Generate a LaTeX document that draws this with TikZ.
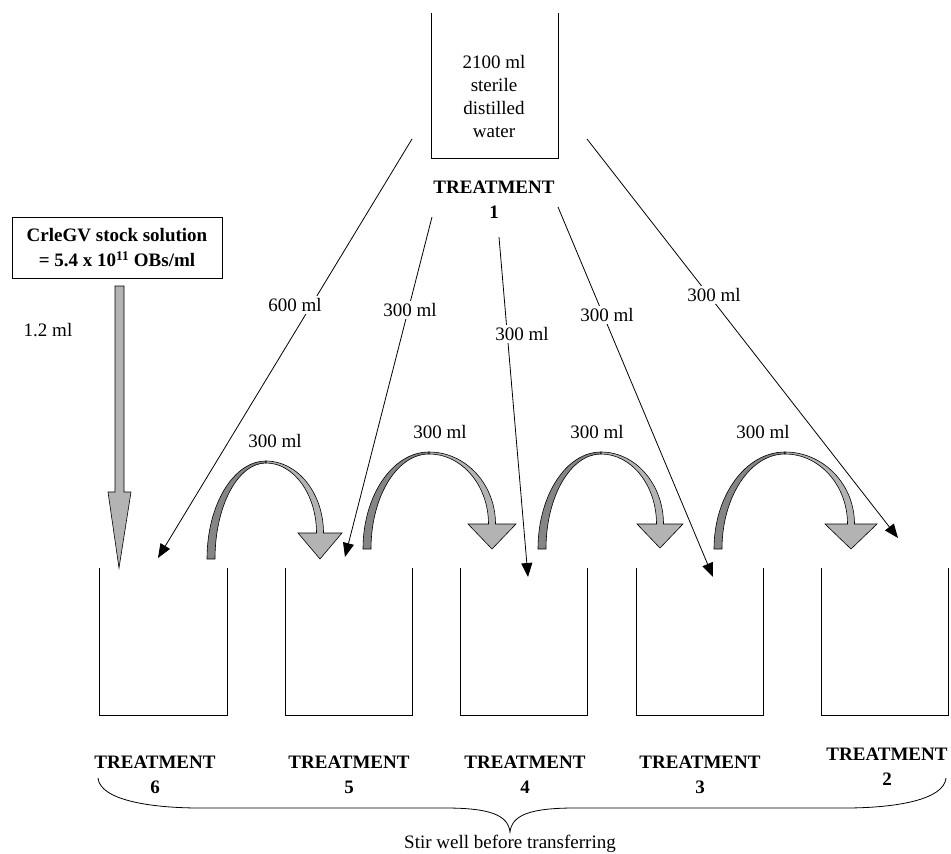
\documentclass[tikz,border=0pt]{standalone}
\usepackage{fontspec}
\setmainfont{Liberation Serif}
\usetikzlibrary{arrows.meta}
\definecolor{darkg}{HTML}{858585}
\definecolor{lightg}{HTML}{B3B3B3}
\tikzset{
  lbl/.style={font=\fontsize{19}{23}\selectfont, align=center, inner sep=1pt},
  bld/.style={font=\fontsize{19}{25}\selectfont\bfseries, align=center, inner sep=1pt},
  vol/.style={font=\fontsize{19}{23}\selectfont, fill=white, inner sep=2pt},
  beaker/.style={line width=1pt},
  feed/.style={line width=0.8pt, -{Triangle[length=14pt,width=11pt]}},
  band/.style={line width=0.6pt, draw=black}
}
% x0, yb, xp, ytop, xs, yh, hw, ytip
\newcommand{\bendarrow}[8]{%
  \fill[band, fill=darkg] (#1,#2) .. controls (#1,{#2-0.552*(#2-#4)}) and ({#3-0.552*(#3-#1)},#4) .. (#3,#4)
     -- (#3,{#4+2}) .. controls ({#3-0.552*(#3-#1-8)},{#4+2}) and ({#1+8},{#2-0.552*(#2-#4-2)}) .. ({#1+8},#2) -- cycle;
  \fill[band, fill=lightg] (#3,#4) .. controls ({#3+0.552*(#5+3.5-#3)},#4) and ({#5+3.5},{#6-0.552*(#6-#4)}) .. ({#5+3.5},#6)
     -- ({#5+#7},#6) -- (#5,#8) -- ({#5-#7},#6) -- ({#5-3.5},#6)
     .. controls ({#5-3.5},{#6-0.552*(#6-#4-2)}) and ({#3+0.552*(#5-3.5-#3)},{#4+2}) .. (#3,{#4+2}) -- cycle;
}
\begin{document}
\begin{tikzpicture}[x=1pt,y=-1pt]
\useasboundingbox (0,0) rectangle (951,854);

% top beaker
\draw[beaker] (431,13) -- (431,158) -- (558,158) -- (558,13);
\node[lbl] (water) at (494,96.5) {2100 ml\\sterile\\distilled\\water};
\node[bld] (t1) at (494,199.5) {TREATMENT\\1};

% bottom beakers
\draw[beaker] (99,568) -- (99,715) -- (227,715) -- (227,568);
\draw[beaker] (285,568) -- (285,715) -- (412,715) -- (412,568);
\draw[beaker] (460,568) -- (460,715) -- (587,715) -- (587,568);
\draw[beaker] (636,568) -- (636,715) -- (763,715) -- (763,568);
\draw[beaker] (821,568) -- (821,715) -- (948,715) -- (948,568);

\node[bld] (t6) at (155,775) {TREATMENT\\6};
\node[bld] (t5) at (349,775) {TREATMENT\\5};
\node[bld] (t4) at (525,775) {TREATMENT\\4};
\node[bld] (t3) at (700,775) {TREATMENT\\3};
\node[bld] (t2) at (887,767) {TREATMENT\\2};

% stock
\node[draw, line width=0.9pt, minimum width=210pt, minimum height=61pt, inner sep=0pt,
      font=\fontsize{19}{25}\selectfont\bfseries, align=center] (stock) at (117,247.5)
  {CrleGV stock solution\\= 5.4 x 10\textsuperscript{11} OBs/ml};
\fill[lightg, draw=black, line width=0.6pt] (115,286) -- (124,286) -- (124,492) -- (131,492)
   -- (119,568) -- (108,492) -- (115,492) -- cycle;
\node[lbl] (v0) at (48,330) {1.2 ml};

% feed arrows from treatment 1
\coordinate (sA) at (412,139); \coordinate (eA) at (158,558);
\coordinate (sB) at (432,217); \coordinate (eB) at (345,557);
\coordinate (sC) at (499,237); \coordinate (eC) at (528,577);
\coordinate (sD) at (558,207); \coordinate (eD) at (713,577);
\coordinate (sE) at (587,139); \coordinate (eE) at (898,538);
\draw[feed] (sA) -- (eA);
\draw[feed] (sB) -- (eB);
\draw[feed] (sC) -- (eC);
\draw[feed] (sD) -- (eD);
\draw[feed] (sE) -- (eE);
\node[vol] (vA) at (295,305) {600 ml};
\node[vol] (vB) at (410,310) {300 ml};
\node[vol] (vC) at (522,334) {300 ml};
\node[vol] (vD) at (607,315) {300 ml};
\node[vol] (vE) at (714,295) {300 ml};

% transfer arrows
\bendarrow{207}{559}{266}{461}{320}{533}{22}{559}
\bendarrow{363}{549}{429}{452}{492}{524}{24}{549}
\bendarrow{538}{549}{601}{452}{660}{524}{23}{548}
\bendarrow{714}{549}{785}{452}{851}{524}{26}{549}
\node[lbl] (s1) at (275,441) {300 ml};
\node[lbl] (s2) at (440,432) {300 ml};
\node[lbl] (s3) at (597,432) {300 ml};
\node[lbl] (s4) at (763,432) {300 ml};

% brace
\draw[line width=0.8pt] (98,778) .. controls (100,800) and (150,808) .. (200,808) -- (445,808)
   .. controls (490,808) and (508,815) .. (510,832)
   .. controls (512,815) and (530,808) .. (575,808) -- (845,808)
   .. controls (895,808) and (944,800) .. (946,778);
\node[lbl] (stir) at (510,844) {Stir well before transferring};
\end{tikzpicture}
\end{document}
